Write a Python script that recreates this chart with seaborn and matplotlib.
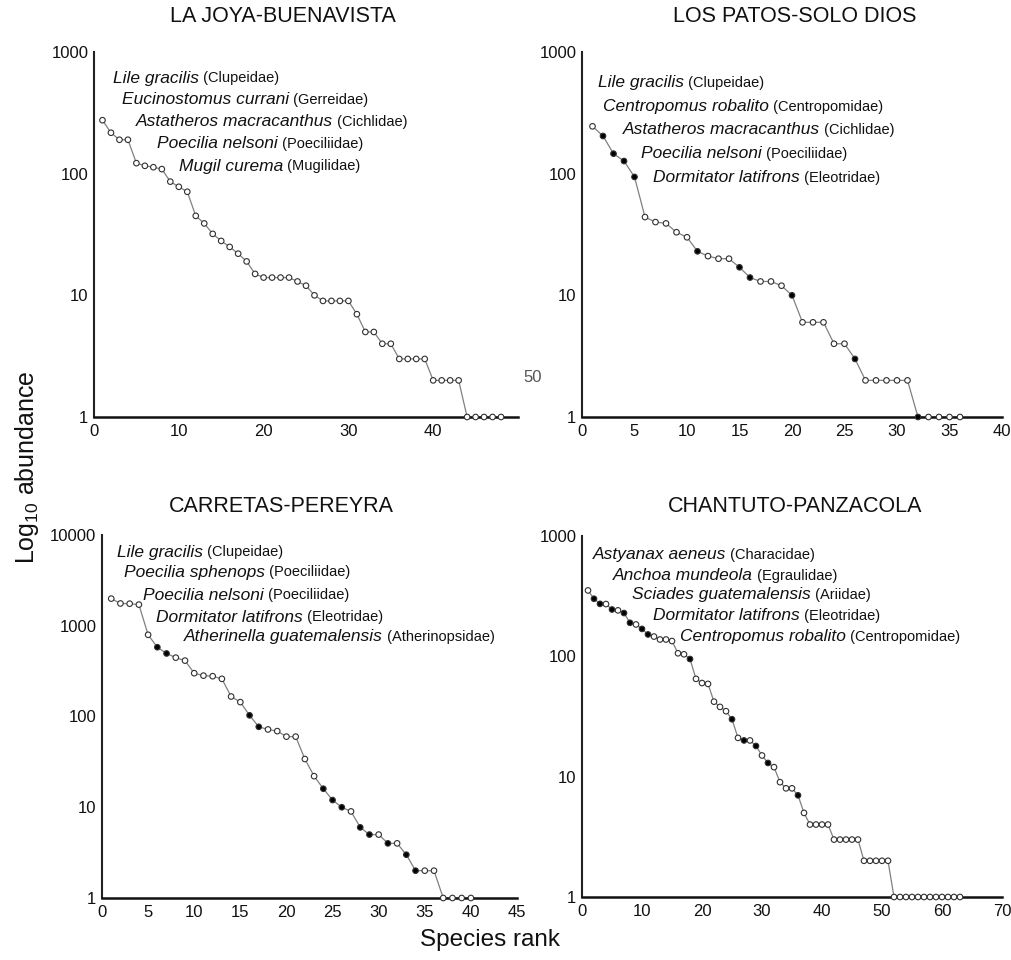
import numpy as np
import pandas as pd
import matplotlib
matplotlib.use("Agg")
import matplotlib.pyplot as plt
import seaborn as sns
from matplotlib import font_manager
from matplotlib.ticker import FixedLocator, FixedFormatter, NullLocator

# ---------------- data ----------------
titles = ["LA JOYA-BUENAVISTA", "LOS PATOS-SOLO DIOS", "CARRETAS-PEREYRA", "CHANTUTO-PANZACOLA"]

joya_abund = [275, 217, 190, 190, 122, 116, 113, 109, 86, 78, 71, 45, 39, 32, 28, 25, 22, 19,
              15, 14, 14, 14, 14, 13, 12, 10, 9, 9, 9, 9, 7, 5, 5, 4, 4, 3, 3, 3, 3,
              2, 2, 2, 2, 1, 1, 1, 1, 1]
joya_filled = []

patos_abund = [245, 204, 146, 127, 94, 44, 40, 39, 33, 30, 23, 21, 20, 20, 17, 14, 13, 13, 12, 10,
               6, 6, 6, 4, 4, 3, 2, 2, 2, 2, 2, 1, 1, 1, 1, 1]
patos_filled = [2, 3, 4, 5, 11, 15, 16, 20, 26, 32]

carretas_abund = [1990, 1760, 1750, 1710, 795, 580, 495, 445, 413, 300, 282, 278, 260, 166, 144,
                  103, 77, 72, 69, 60, 60, 34, 22, 16, 12, 10, 9, 6, 5, 5, 4, 4, 3, 2, 2, 2,
                  1, 1, 1, 1]
carretas_filled = [6, 7, 16, 17, 24, 25, 26, 28, 29, 31, 33, 34]

chantuto_abund = [353, 301, 273, 272, 245, 241, 229, 190, 184, 169, 152, 146, 138, 138, 134, 106,
                  104, 95, 65, 60, 59, 42, 38, 35, 30, 21, 20, 20, 18, 15, 13, 12, 9, 8, 8, 7, 5,
                  4, 4, 4, 4, 3, 3, 3, 3, 3, 2, 2, 2, 2, 2,
                  1, 1, 1, 1, 1, 1, 1, 1, 1, 1, 1, 1]
chantuto_filled = [2, 3, 5, 7, 8, 10, 11, 18, 25, 27, 29, 31, 36]

joya_species = ["Lile gracilis", "Eucinostomus currani", "Astatheros macracanthus",
                "Poecilia nelsoni", "Mugil curema"]
joya_families = ["Clupeidae", "Gerreidae", "Cichlidae", "Poeciliidae", "Mugilidae"]
patos_species = ["Lile gracilis", "Centropomus robalito", "Astatheros macracanthus",
                 "Poecilia nelsoni", "Dormitator latifrons"]
patos_families = ["Clupeidae", "Centropomidae", "Cichlidae", "Poeciliidae", "Eleotridae"]
carretas_species = ["Lile gracilis", "Poecilia sphenops", "Poecilia nelsoni",
                    "Dormitator latifrons", "Atherinella guatemalensis"]
carretas_families = ["Clupeidae", "Poeciliidae", "Poeciliidae", "Eleotridae", "Atherinopsidae"]
chantuto_species = ["Astyanax aeneus", "Anchoa mundeola", "Sciades guatemalensis",
                    "Dormitator latifrons", "Centropomus robalito"]
chantuto_families = ["Characidae", "Egraulidae", "Ariidae", "Eleotridae", "Centropomidae"]

y_ticks_3 = [1, 10, 100, 1000]
y_ticks_4 = [1, 10, 100, 1000, 10000]
x_ticks_1 = [0, 10, 20, 30, 40]
x_ticks_2 = [0, 5, 10, 15, 20, 25, 30, 35, 40]
x_ticks_3 = [0, 5, 10, 15, 20, 25, 30, 35, 40, 45]
x_ticks_4 = [0, 10, 20, 30, 40, 50, 60, 70]

# ---------------- style ----------------
sns.set_theme(style="white")
plt.rcParams["font.family"] = ["Liberation Sans", "DejaVu Sans"]
plt.rcParams["mathtext.fontset"] = "custom"
plt.rcParams["mathtext.rm"] = "Liberation Sans"
plt.rcParams["mathtext.it"] = "Liberation Sans:italic"

names = {f.name for f in font_manager.fontManager.ttflist}
if "Liberation Sans Narrow" in names:
    fam_font = ["Liberation Sans Narrow", "Liberation Sans"]
    fam_size = 12.5
else:
    fam_font = ["Liberation Sans", "DejaVu Sans"]
    fam_size = 10.5

W, H = 1011, 960
fig = plt.figure(figsize=(W / 100, H / 100), dpi=100)
fig.patch.set_facecolor("white")


def add_ax(l, r, b, t):
    return fig.add_axes([l / W, 1 - b / H, (r - l) / W, (b - t) / H])


panels = [
    dict(box=(94, 518, 417, 52), abund=joya_abund, filled=joya_filled, xlim=(0, 50),
         xt=x_ticks_1, ylim=(1, 1000), yt=y_ticks_3, title_xy=(283, 16),
         sp=joya_species, fa=joya_families,
         txt=[(113, 78), (122, 100), (136, 122), (157, 144), (179, 166)]),
    dict(box=(582, 1002, 417, 52), abund=patos_abund, filled=patos_filled, xlim=(0, 40),
         xt=x_ticks_2, ylim=(1, 1000), yt=y_ticks_3, title_xy=(795, 16),
         sp=patos_species, fa=patos_families,
         txt=[(598, 83), (603, 107), (623, 130), (641, 154), (653, 178)]),
    dict(box=(102, 517, 898, 535), abund=carretas_abund, filled=carretas_filled, xlim=(0, 45),
         xt=x_ticks_3, ylim=(1, 10000), yt=y_ticks_4, title_xy=(281, 506),
         sp=carretas_species, fa=carretas_families,
         txt=[(117, 552), (124, 572), (143, 595), (156, 617), (184, 637)]),
    dict(box=(582, 1002, 897, 536), abund=chantuto_abund, filled=chantuto_filled, xlim=(0, 70),
         xt=x_ticks_4, ylim=(1, 1000), yt=y_ticks_3, title_xy=(795, 506),
         sp=chantuto_species, fa=chantuto_families,
         txt=[(593, 555), (613, 576), (632, 595), (653, 616), (680, 637)]),
]

for p, title in zip(panels, titles):
    ax = add_ax(*p["box"])
    ax.set_facecolor("white")
    ax.set_yscale("log")
    n = len(p["abund"])
    df = pd.DataFrame({
        "rank": np.arange(1, n + 1),
        "abundance": p["abund"],
        "filled": [i in p["filled"] for i in range(1, n + 1)],
    })
    sns.lineplot(data=df, x="rank", y="abundance", ax=ax, color="#808080",
                 linewidth=0.9, clip_on=False, zorder=2)
    sns.scatterplot(data=df, x="rank", y="abundance", hue="filled",
                    palette={False: "white", True: "black"}, edgecolor="#303030",
                    s=16, linewidth=0.8, legend=False, ax=ax, clip_on=False, zorder=3)
    ax.set_xlim(*p["xlim"])
    ax.set_ylim(*p["ylim"])
    ax.xaxis.set_major_locator(FixedLocator(p["xt"]))
    ax.xaxis.set_major_formatter(FixedFormatter([str(v) for v in p["xt"]]))
    ax.yaxis.set_major_locator(FixedLocator(p["yt"]))
    ax.yaxis.set_major_formatter(FixedFormatter([str(v) for v in p["yt"]]))
    ax.yaxis.set_minor_locator(NullLocator())
    ax.xaxis.set_minor_locator(NullLocator())
    ax.tick_params(axis="both", length=0, labelsize=12, colors="#111111")
    ax.tick_params(axis="y", pad=4)
    ax.tick_params(axis="x", pad=5)
    ax.set_xlabel("")
    ax.set_ylabel("")
    for s in ["top", "right"]:
        ax.spines[s].set_visible(False)
    ax.spines["left"].set_linewidth(1.5)
    ax.spines["left"].set_color("#222222")
    ax.spines["bottom"].set_linewidth(1.8)
    ax.spines["bottom"].set_color("#111111")
    ax.grid(False)

    tx, ty = p["title_xy"]
    fig.text(tx / W, 1 - ty / H, title, ha="center", va="center", fontsize=15.5, color="#111111")

    for (x, y), sp, fa in zip(p["txt"], p["sp"], p["fa"]):
        t1 = fig.text(x / W, 1 - y / H, sp, style="italic", fontsize=12.5,
                      ha="left", va="center", color="#111111")
        ax.annotate(" (" + fa + ")", xy=(1, 0.5), xycoords=t1, ha="left", va="center",
                    fontsize=fam_size, family=fam_font, color="#111111",
                    annotation_clip=False)

# stray tick label seen in the reference
fig.text(533 / W, 1 - 377 / H, "50", ha="center", va="center", fontsize=12, color="#555555")

fig.text(27 / W, 1 - 467 / H, "Log$_{10}$ abundance", rotation=90, ha="center", va="center",
         fontsize=18, color="#111111")
fig.text(490 / W, 1 - 940 / H, "Species rank", ha="center", va="center", fontsize=17.5,
         color="#111111")

fig.savefig("out.png", dpi=100, facecolor="white")
